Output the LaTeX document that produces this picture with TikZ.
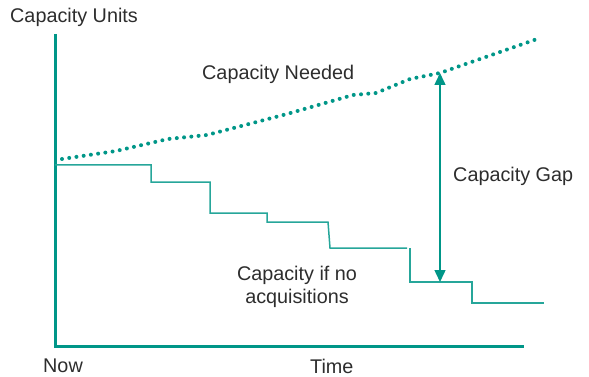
\documentclass[tikz,border=0pt]{standalone}
\usepackage{fontspec}
\setmainfont{Liberation Sans}
\usepackage{tikz}
\usetikzlibrary{arrows.meta}

\definecolor{capteal}{RGB}{0,150,136}
\definecolor{captext}{RGB}{45,45,45}

\tikzset{
  axisline/.style={draw=capteal, line width=3pt},
  stepline/.style={draw=capteal!85, line width=1.5pt},
  needline/.style={draw=capteal, line width=4pt, line cap=round, dash pattern=on 0pt off 7.3pt},
  gaparrow/.style={draw=capteal, line width=1.5pt, {Triangle[width=11pt,length=12pt]}-{Triangle[width=11pt,length=12pt]}},
  txt/.style={text=captext, inner sep=0pt, font=\fontsize{19.8}{23.5}\selectfont}
}

\begin{document}
\begin{tikzpicture}[x=1pt, y=-1pt]
\useasboundingbox (0,0) rectangle (589,377);

\coordinate (O) at (55,346);
\coordinate (Ytop) at (55,34);
\coordinate (Xend) at (524,346);
\coordinate (gaptop) at (440,73);
\coordinate (gapbot) at (440,282);

\node (units) at (10,23) [txt, anchor=base west] {Capacity Units};
\node (needed) at (202,80) [txt, anchor=base west] {Capacity Needed};
\node (gap) at (453,182) [txt, anchor=base west] {Capacity Gap};
\node (noacq) at (297,287) [txt, align=center] {Capacity if no\\acquisitions};
\node (now) at (43,372) [txt, anchor=base west] {Now};
\node (time) at (310,373) [txt, anchor=base west] {Time};

\draw [axisline] (Ytop) -- (O) -- (Xend);

\draw [stepline] (55,165) -- (151,165) -- (151,182) -- (210,182) -- (210,213)
  -- (267,213) -- (267,222) -- (328,222) -- (330,248) -- (407,248);
\draw [stepline] (410,248) -- (410,282) -- (472,282) -- (472,303) -- (544,303);

\draw [needline] (62,159) -- (116,151) -- (168,139) -- (207,135) -- (287,114)
  -- (353,95) -- (376,93) -- (410,79) -- (440,73) -- (540,38);

\draw [gaparrow] (gapbot) -- (gaptop);
\end{tikzpicture}
\end{document}
